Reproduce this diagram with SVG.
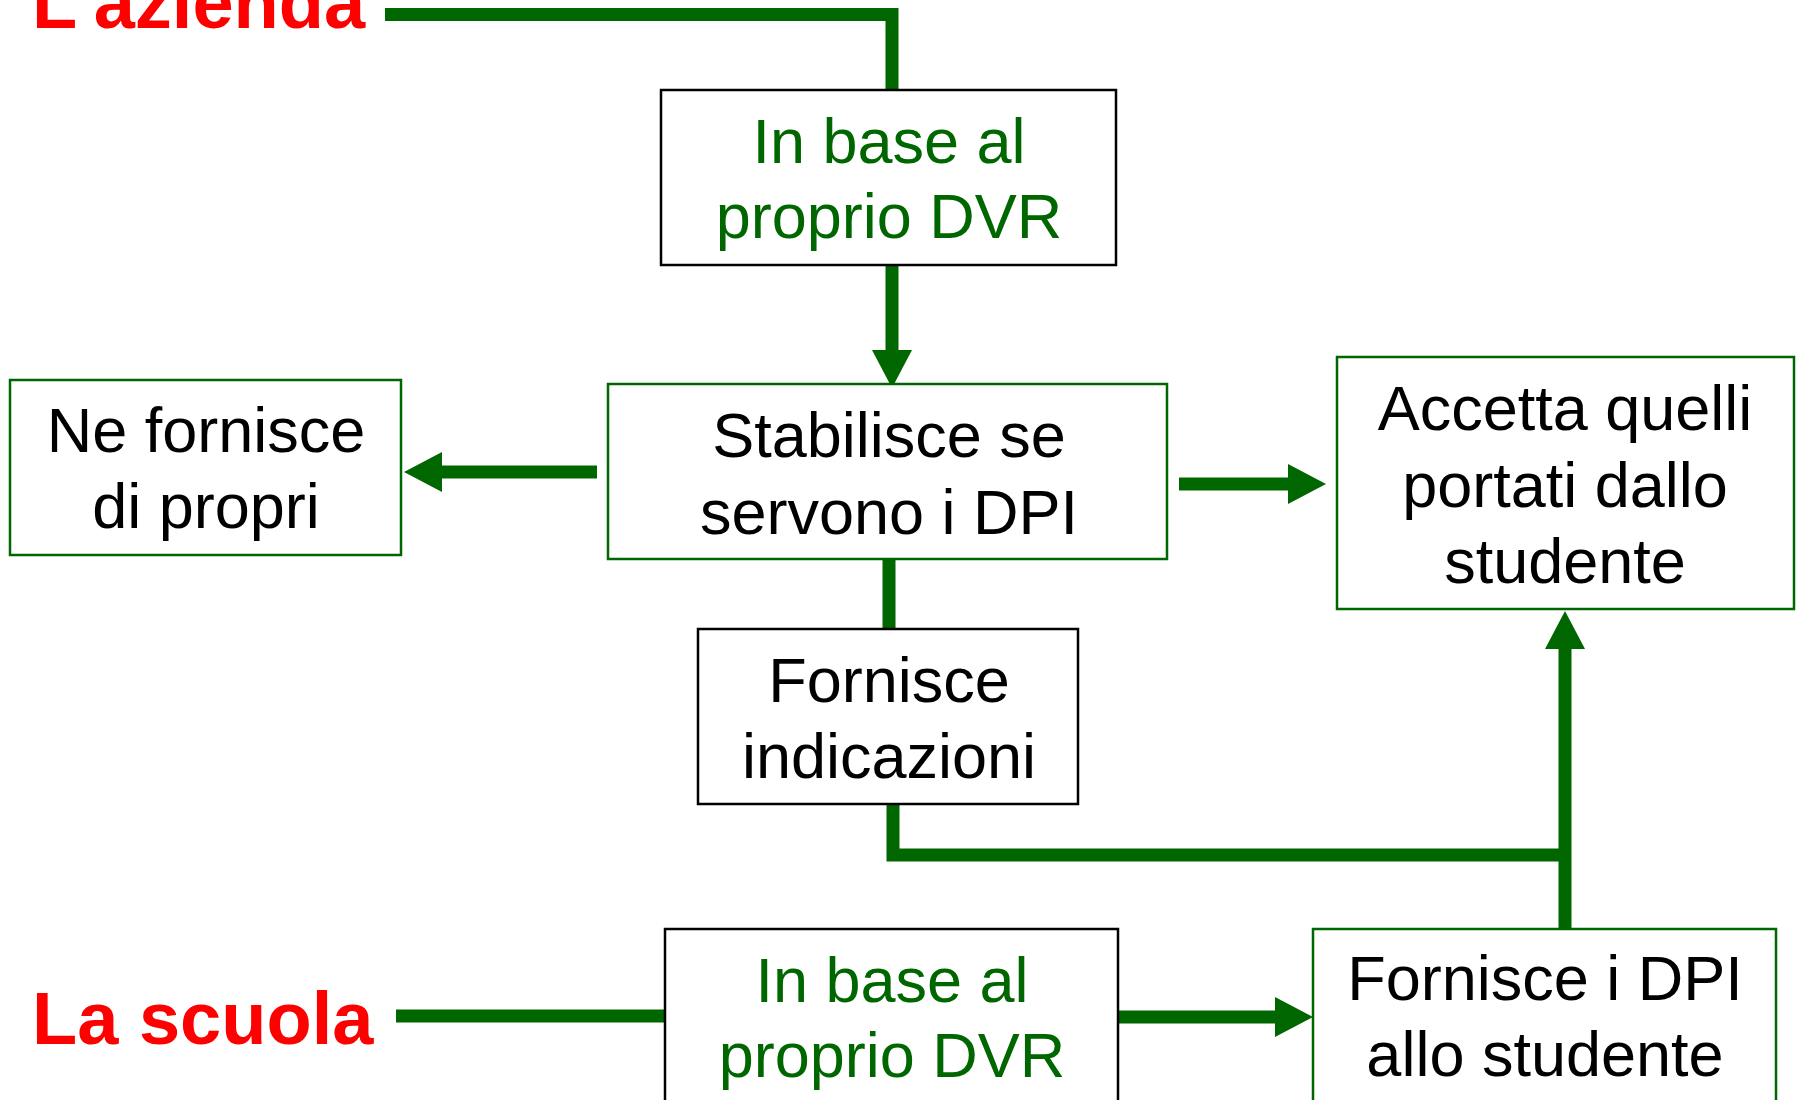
<svg xmlns="http://www.w3.org/2000/svg" width="1798" height="1100" viewBox="0 0 1798 1100">
<style>
.bg{fill:#ffffff}
.boxg{fill:#ffffff;stroke:#006600;stroke-width:2.5}
.boxk{fill:#ffffff;stroke:#000000;stroke-width:2.5}
.t{font-family:"Liberation Sans",Arial,sans-serif;font-size:63px;text-anchor:middle;fill:#000000}
.tg{fill:#006600}
.lbl{font-family:"Liberation Sans",Arial,sans-serif;font-size:74px;font-weight:bold;fill:#ff0000}
.conn{fill:none;stroke:#006600;stroke-width:13;stroke-linejoin:miter}
</style>
<defs>
<marker id="ah" markerUnits="userSpaceOnUse" viewBox="0 0 38 40" markerWidth="38" markerHeight="40" refX="0" refY="20" orient="auto">
<path d="M0,0 L38,20 L0,40 Z" fill="#006600"/>
</marker>
</defs>
<rect class="bg" x="0" y="0" width="1798" height="1100"/>

<g id="connectors">
<polyline class="conn" points="385,14.5 892,14.5 892,90"/>
<line class="conn" x1="892" y1="265" x2="892" y2="350" marker-end="url(#ah)"/>
<line class="conn" x1="597" y1="472" x2="442" y2="472" marker-end="url(#ah)"/>
<line class="conn" x1="1179" y1="484" x2="1288" y2="484" marker-end="url(#ah)"/>
<line class="conn" x1="889" y1="559" x2="889" y2="629"/>
<polyline class="conn" points="893,804 893,855 1565,855"/>
<line class="conn" x1="1565" y1="929" x2="1565" y2="649" marker-end="url(#ah)"/>
<line class="conn" x1="396" y1="1016" x2="665" y2="1016"/>
<line class="conn" x1="1118" y1="1017" x2="1275" y2="1017" marker-end="url(#ah)"/>
</g>

<g id="label-azienda"><text class="lbl" x="32" y="28">L’azienda</text></g>
<g id="label-scuola"><text class="lbl" x="32" y="1044">La scuola</text></g>

<g id="node-dvr-azienda">
<rect class="boxk" x="661" y="90" width="455" height="175"/>
<text class="t tg" x="889" y="163">In base al</text>
<text class="t tg" x="889" y="238">proprio DVR</text>
</g>

<g id="node-stabilisce">
<rect class="boxg" x="608" y="384" width="559" height="175"/>
<text class="t" x="889" y="457">Stabilisce se</text>
<text class="t" x="889" y="534">servono i DPI</text>
</g>

<g id="node-ne-fornisce">
<rect class="boxg" x="10" y="380" width="391" height="175"/>
<text class="t" x="206" y="452">Ne fornisce</text>
<text class="t" x="206" y="528">di propri</text>
</g>

<g id="node-accetta">
<rect class="boxg" x="1337" y="357" width="457" height="252"/>
<text class="t" x="1565" y="430">Accetta quelli</text>
<text class="t" x="1565" y="507">portati dallo</text>
<text class="t" x="1565" y="583">studente</text>
</g>

<g id="node-indicazioni">
<rect class="boxk" x="698" y="629" width="380" height="175"/>
<text class="t" x="889" y="702">Fornisce</text>
<text class="t" x="889" y="778">indicazioni</text>
</g>

<g id="node-dvr-scuola">
<rect class="boxk" x="665" y="929" width="453" height="200"/>
<text class="t tg" x="892" y="1002">In base al</text>
<text class="t tg" x="892" y="1077">proprio DVR</text>
</g>

<g id="node-fornisce-dpi">
<rect class="boxg" x="1313" y="929" width="463" height="200"/>
<text class="t" x="1545" y="1000">Fornisce i DPI</text>
<text class="t" x="1545" y="1076">allo studente</text>
</g>
</svg>
